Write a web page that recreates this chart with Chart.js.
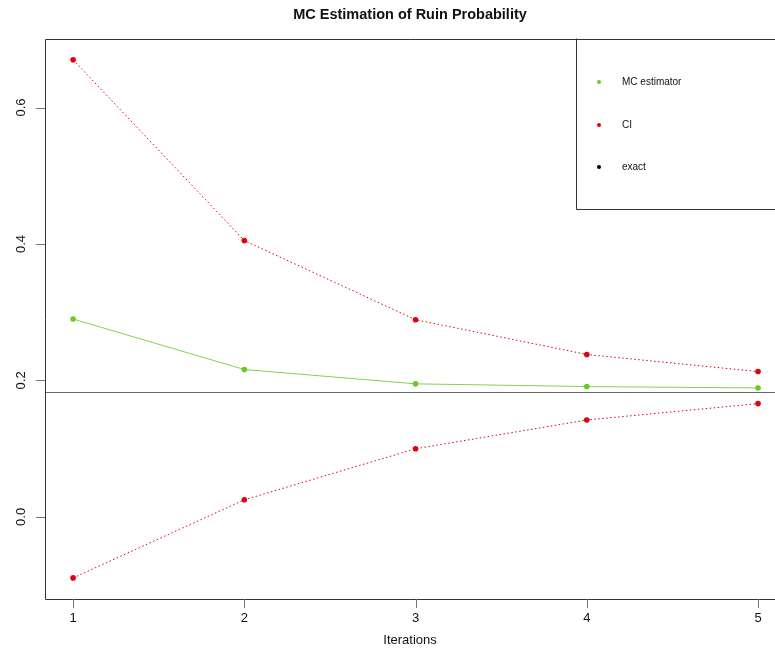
<!DOCTYPE html>
<html>
<head>
<meta charset="utf-8">
<script src="https://cdn.jsdelivr.net/npm/chart.js@4/dist/chart.umd.min.js"></script>
<style>
  html, body { margin:0; padding:0; background:#fff; }
  #wrap { width:775px; height:650px; position:relative; }
</style>
</head>
<body>
<div id="wrap"><canvas id="c" width="775" height="650"></canvas></div>
<script>
// data
const iterations = [1, 2, 3, 4, 5];
const mcEstimator = [0.290, 0.216, 0.195, 0.191, 0.189];
const ciUpper = [0.670, 0.405, 0.289, 0.238, 0.213];
const ciLower = [-0.0895, 0.025, 0.0998, 0.142, 0.166];
const exactValue = 0.1834;
const yTicks = [0.0, 0.2, 0.4, 0.6];
const xTicks = [1, 2, 3, 4, 5];

const GREEN = "#66cc22";
const RED = "#e00010";
const FONT = "'Liberation Sans', Arial, Helvetica, sans-serif";

function pts(ys){ return iterations.map((x,i)=>({x, y:ys[i]})); }

// box, rotated y labels, titles, legend, the exact line
const rPlot = {
  id: "rPlot",
  beforeDatasetsDraw(chart){
    const {ctx, chartArea:a, scales:{x, y}} = chart;
    ctx.save();
    const ey = Math.round(y.getPixelForValue(exactValue)) + 0.5;
    ctx.strokeStyle = "#6a6a6a"; ctx.lineWidth = 1.2;
    ctx.beginPath(); ctx.moveTo(a.left, ey); ctx.lineTo(a.right, ey); ctx.stroke();
    ctx.restore();
  },
  afterDraw(chart){
    const {ctx, chartArea:a, scales:{x, y}} = chart;
    ctx.save();
    // box
    ctx.strokeStyle = "#333"; ctx.lineWidth = 1;
    ctx.beginPath();
    ctx.moveTo(a.right + 5, a.top + 0.5);
    ctx.lineTo(a.left + 0.5, a.top + 0.5);
    ctx.lineTo(a.left + 0.5, a.bottom + 0.5);
    ctx.lineTo(a.right + 5, a.bottom + 0.5);
    ctx.stroke();
    // ticks
    ctx.strokeStyle = "#777";
    yTicks.forEach(v=>{
      const py = Math.round(y.getPixelForValue(v)) + 0.5;
      ctx.beginPath(); ctx.moveTo(a.left - 9, py); ctx.lineTo(a.left, py); ctx.stroke();
    });
    xTicks.forEach(v=>{
      const px = Math.round(x.getPixelForValue(v)) + 0.5;
      ctx.beginPath(); ctx.moveTo(px, a.bottom); ctx.lineTo(px, a.bottom + 9); ctx.stroke();
    });
    // tick labels
    ctx.fillStyle = "#111";
    ctx.font = "13px " + FONT;
    ctx.textAlign = "center"; ctx.textBaseline = "middle";
    xTicks.forEach(v=> ctx.fillText(String(v), x.getPixelForValue(v), a.bottom + 19));
    yTicks.forEach(v=>{
      ctx.save();
      ctx.translate(21, y.getPixelForValue(v));
      ctx.rotate(-Math.PI/2);
      ctx.fillText(v.toFixed(1), 0, 0);
      ctx.restore();
    });
    // titles
    ctx.font = "bold 14.5px " + FONT;
    ctx.fillText("MC Estimation of Ruin Probability", (a.left + a.right)/2, 15);
    ctx.font = "13px " + FONT;
    ctx.fillText("Iterations", (a.left + a.right)/2, 640);
    // legend
    const lx = 576.5, ly = 38.5, lb = 209.5;
    ctx.strokeStyle = "#333";
    ctx.beginPath(); ctx.moveTo(lx, ly); ctx.lineTo(lx, lb); ctx.lineTo(a.right + 5, lb); ctx.stroke();
    const items = [["MC estimator", GREEN, 82], ["CI", RED, 125], ["exact", "#000", 167]];
    ctx.font = "10px " + FONT; ctx.textAlign = "left";
    items.forEach(([label, col, yy])=>{
      ctx.fillStyle = col;
      ctx.beginPath(); ctx.arc(599, yy, 2, 0, Math.PI*2); ctx.fill();
      ctx.fillStyle = "#111";
      ctx.fillText(label, 622, yy);
    });
    ctx.restore();
  }
};

new Chart(document.getElementById("c"), {
  type: "scatter",
  data: {
    datasets: [
      { label:"CI upper", data: pts(ciUpper), showLine:true, borderColor:RED, borderWidth:1,
        borderDash:[1.5,2.5], pointBackgroundColor:RED, pointBorderWidth:0, pointRadius:2.8 },
      { label:"CI lower", data: pts(ciLower), showLine:true, borderColor:RED, borderWidth:1,
        borderDash:[1.5,2.5], pointBackgroundColor:RED, pointBorderWidth:0, pointRadius:2.8 },
      { label:"MC estimator", data: pts(mcEstimator), showLine:true, borderColor:"#7fd44f", borderWidth:1,
        pointBackgroundColor:GREEN, pointBorderWidth:0, pointRadius:2.8 }
    ]
  },
  options: {
    responsive:false, animation:false,
    layout: { autoPadding:false, padding: { left:45, top:39, right:0, bottom:51 } },
    plugins: { legend:{ display:false }, tooltip:{ enabled:false }, title:{ display:false } },
    scales: {
      x: { type:"linear", min:0.836, max:5.099, display:false },
      y: { type:"linear", min:-0.1204, max:0.7005, display:false }
    }
  },
  plugins: [rPlot]
});
</script>
</body>
</html>
